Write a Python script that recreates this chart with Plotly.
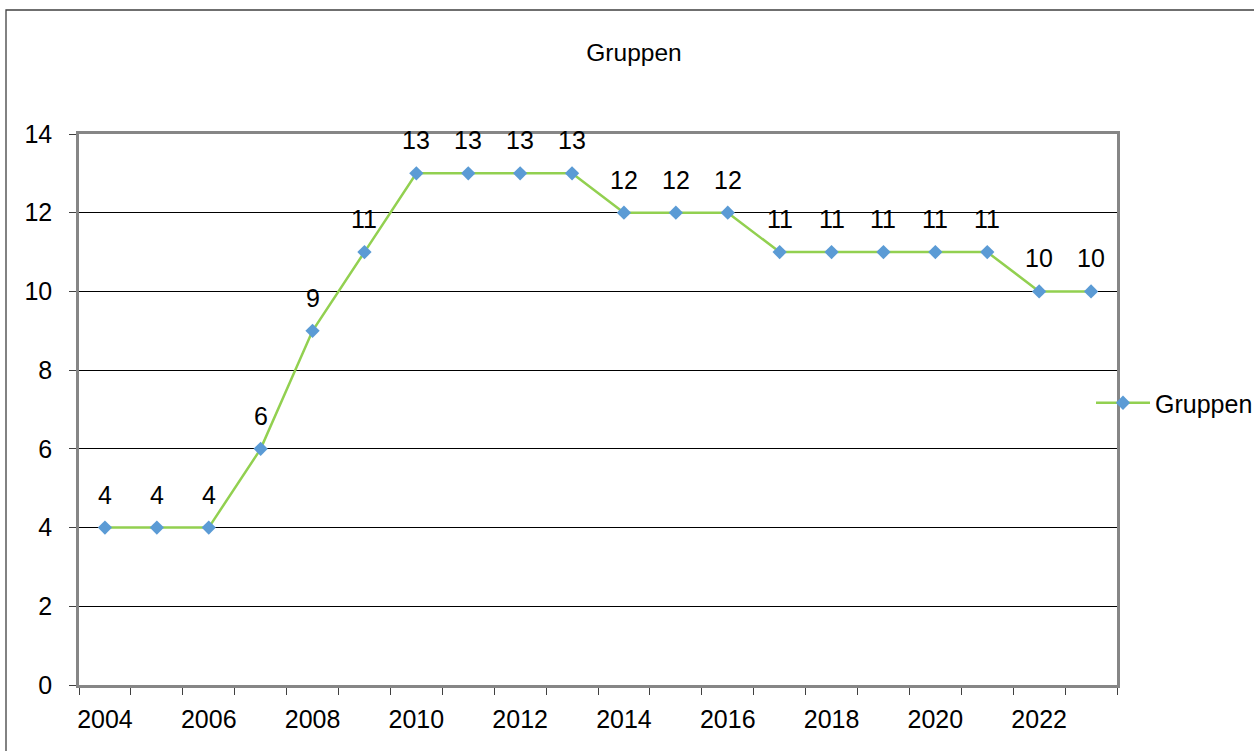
import plotly.graph_objects as go

years = list(range(2004, 2024))
gruppen = [4, 4, 4, 6, 9, 11, 13, 13, 13, 13, 12, 12, 12, 11, 11, 11, 11, 11, 10, 10]
label_years = list(range(2004, 2024, 2))
y_ticks = list(range(0, 15, 2))

FONT = "Liberation Sans, Arial, sans-serif"
FS = 25

fig = go.Figure()
fig.add_trace(go.Scatter(
    x=years, y=gruppen, mode="lines+markers", name="Gruppen",
    line=dict(color="#92D050", width=2.5),
    marker=dict(symbol="diamond", size=11, color="#5B9BD5"),
    cliponaxis=False,
))

for xv, yv in zip(years, gruppen):
    fig.add_annotation(x=xv, y=yv, text=str(yv), showarrow=False, yshift=33,
                       font=dict(size=FS, color="black", family=FONT))

# outer chart border
fig.add_shape(type="rect", xref="paper", yref="paper",
              x0=(6 - 79) / 1038, x1=(1260 - 79) / 1038,
              y0=(685 - 760) / 551, y1=(685 - 10) / 551,
              line=dict(color="#404040", width=1.3), fillcolor="rgba(0,0,0,0)", layer="below")

fig.update_layout(
    width=1254, height=751,
    margin=dict(l=79, r=137, t=134, b=66, autoexpand=False),
    paper_bgcolor="white", plot_bgcolor="white",
    font=dict(family=FONT, size=FS, color="black"),
    title=dict(text="Gruppen", x=634 / 1254, xanchor="center", xref="container",
               y=1 - 52 / 751, yanchor="middle", yref="container",
               font=dict(size=24.5, color="black", family=FONT)),
    showlegend=True,
    legend=dict(x=(1091 - 79) / 1038, xanchor="left", y=(685 - 403) / 551, yanchor="middle",
                itemwidth=54,
                font=dict(size=FS, color="black", family=FONT), bgcolor="rgba(0,0,0,0)"),
    xaxis=dict(
        range=[2003.5, 2023.5], tickmode="array", tickvals=label_years,
        ticktext=[str(v) for v in label_years], ticks="", showgrid=False,
        showline=True, linecolor="#868686", linewidth=2.5, mirror=True,
        zeroline=False, tickfont=dict(size=FS, color="black"), ticklabelstandoff=10,
        minor=dict(tickmode="array", tickvals=[y - 0.5 for y in years] + [years[-1] + 0.5],
                   ticks="outside", ticklen=7, tickwidth=1.3, tickcolor="#404040", showgrid=False),
    ),
    yaxis=dict(
        range=[0, 14], tickmode="array", tickvals=y_ticks, ticks="outside", ticklen=7,
        tickwidth=1.3, tickcolor="#404040", showgrid=True, gridcolor="black", gridwidth=1,
        showline=True, linecolor="#868686", linewidth=2.5, mirror=True, zeroline=False,
        tickfont=dict(size=FS, color="black"), ticklabelstandoff=12,
    ),
)

fig.write_html("out.html")
